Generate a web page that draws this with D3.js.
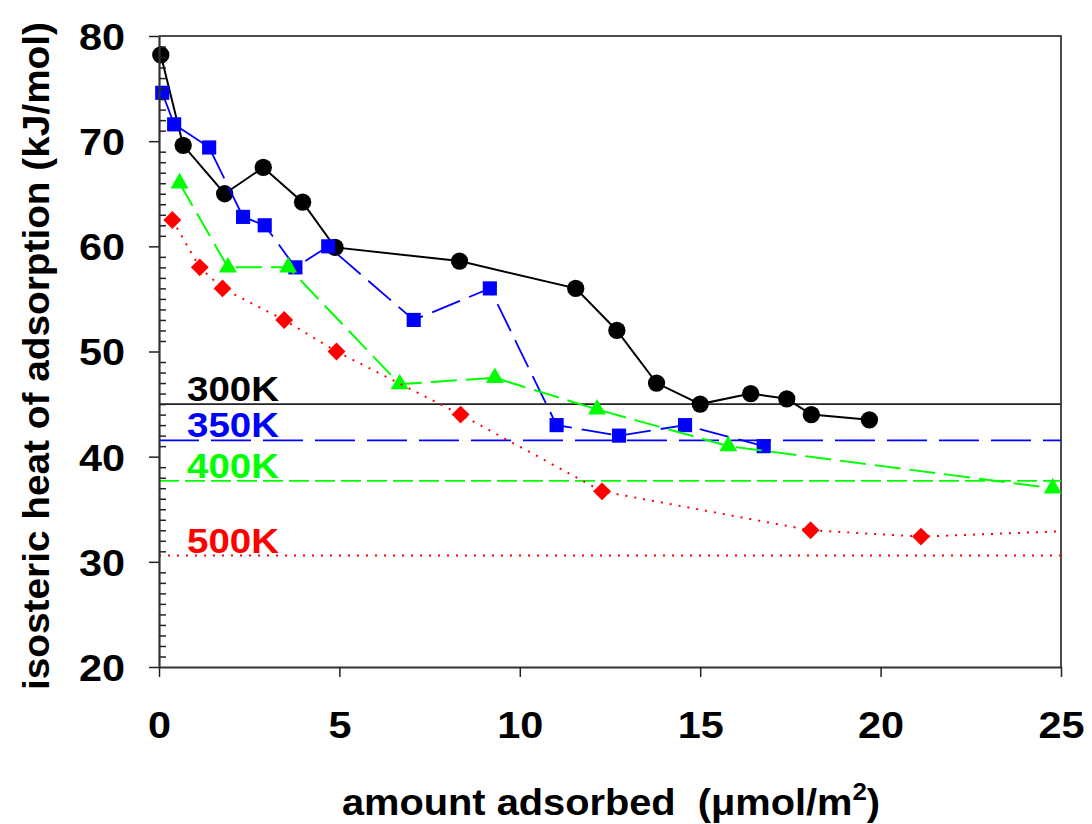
<!DOCTYPE html>
<html>
<head>
<meta charset="utf-8">
<script src="https://cdn.jsdelivr.net/npm/d3@7"></script>
<style>
  body { margin: 0; background: #fff; }
  text { font-family: "Liberation Sans", Arial, sans-serif; font-weight: bold; }
</style>
</head>
<body>
<div id="chart"></div>
<script>
(function() {
  var x300, y300, x350, y350, x400, y400, x500, y500, tail500, refValues, refLabels, refColors, refDash, xTicks, yTicks;

  // isosteric heat data
  x300 = [0.05, 0.67, 1.82, 2.89, 3.98, 4.88, 8.33, 11.55, 12.69, 13.79, 15.0, 16.4, 17.4, 18.08, 19.69];
  y300 = [78.2, 69.6, 65.0, 67.5, 64.2, 59.9, 58.6, 56.0, 52.0, 47.0, 45.0, 46.0, 45.5, 44.0, 43.5];

  x350 = [0.09, 0.42, 1.39, 2.33, 2.93, 3.78, 4.69, 7.06, 9.17, 11.02, 12.75, 14.58, 16.76];
  y350 = [74.6, 71.6, 69.4, 62.8, 62.0, 58.0, 60.0, 53.0, 56.0, 43.0, 42.0, 43.0, 41.0];

  x400 = [0.57, 1.91, 3.58, 6.67, 9.31, 12.14, 15.78, 24.77];
  y400 = [66.0, 58.0, 58.0, 46.9, 47.5, 44.5, 41.0, 37.0];

  x500 = [0.37, 1.13, 1.76, 3.47, 4.92, 8.36, 12.28, 18.06, 21.12];
  y500 = [62.5, 58.0, 56.0, 53.0, 50.0, 44.0, 36.7, 33.0, 32.4];
  tail500 = [25, 32.9];   // line runs on to the right edge, no marker

  refValues = [45.0, 41.55, 37.7, 30.6];
  refLabels = ["300K", "350K", "400K", "500K"];
  refColors = ["#000000", "#0000ff", "#00ff00", "#ff0000"];
  refDash = [null, "40,12", "20,6", "2,7"];

  xTicks = [0, 5, 10, 15, 20, 25];
  yTicks = [20, 30, 40, 50, 60, 70, 80];

  var W = 1092, H = 824;
  var left = 159, right = 1061, top = 36, bottom = 667;

  var svg = d3.select("#chart").append("svg").attr("width", W).attr("height", H);

  var x = d3.scaleLinear().domain([0, 25]).range([left, right]);
  var y = d3.scaleLinear().domain([20, 80]).range([bottom, top]);

  var zip = function(xs, ys) {
    return xs.map(function(d, i) { return [d, ys[i]]; });
  };

  // frame top + right
  svg.append("path")
    .attr("d", "M" + left + "," + top + "H" + right + "V" + bottom)
    .attr("fill", "none").attr("stroke", "#111").attr("stroke-width", 1.5);

  // reference lines
  refValues.forEach(function(v, i) {
    svg.append("line")
      .attr("x1", x(0)).attr("x2", x(25))
      .attr("y1", y(v)).attr("y2", y(v))
      .attr("stroke", i === 0 ? "#222" : refColors[i])
      .attr("stroke-width", i === 3 ? 2 : 1.6)
      .attr("stroke-dasharray", refDash[i]);
    svg.append("text")
      .attr("transform", "translate(" + 187 + "," + (y(v) - 3) + ") scale(1.1,1)")
      .attr("font-size", 35)
      .attr("fill", refColors[i])
      .text(refLabels[i]);
  });

  var line = d3.line().x(function(d) { return x(d[0]); }).y(function(d) { return y(d[1]); });

  var series = [
    { pts: zip(x300, y300), color: "#000000", dash: null, width: 2, sym: d3.symbolCircle, size: 235, rot: 0 },
    { pts: zip(x350, y350), color: "#0000ff", dash: "30,10", width: 1.8, sym: d3.symbolSquare, size: 200, rot: 0 },
    { pts: zip(x400, y400), color: "#00ff00", dash: "26,9", width: 2, sym: d3.symbolTriangle, size: 140, rot: 0 },
    { pts: zip(x500, y500), color: "#ff0000", dash: "2,7", width: 2, sym: d3.symbolSquare, size: 160, rot: 45 }
  ];

  series.forEach(function(s, i) {
    var lp = s.pts.slice();
    if (i === 3) lp.push(tail500);
    svg.append("path")
      .attr("d", line(lp))
      .attr("fill", "none")
      .attr("stroke", s.color)
      .attr("stroke-width", s.width)
      .attr("stroke-dasharray", s.dash);
    svg.append("g").selectAll("path").data(s.pts).enter().append("path")
      .attr("d", d3.symbol().type(s.sym).size(s.size))
      .attr("transform", function(d) {
        return "translate(" + x(d[0]) + "," + y(d[1]) + ") rotate(" + s.rot + ")";
      })
      .attr("fill", s.color);
  });

  // y axis: major ticks outward, minor ticks inward
  var yAxis = svg.append("g").attr("transform", "translate(" + left + ",0)")
    .call(d3.axisLeft(y).tickValues(yTicks).tickSize(10).tickSizeOuter(0).tickPadding(24));
  yAxis.select(".domain").attr("stroke", "#333").attr("stroke-width", 2.2);
  yAxis.selectAll(".tick line").attr("stroke", "#222").attr("stroke-width", 1.5);
  yAxis.selectAll(".tick text")
    .attr("font-size", 37).attr("fill", "#000")
    .attr("x", -34 / 1.12).attr("dy", "0.36em")
    .attr("transform", "scale(1.12,1)");

  var minor = d3.range(21, 80).filter(function(d) { return d % 10 !== 0; });
  var yMinor = svg.append("g").attr("transform", "translate(" + left + ",0)")
    .call(d3.axisRight(y).tickValues(minor).tickSize(7).tickFormat(""));
  yMinor.select(".domain").remove();
  yMinor.selectAll(".tick line").attr("stroke", "#222").attr("stroke-width", 1.5);

  // x axis
  var xAxis = svg.append("g").attr("transform", "translate(0," + bottom + ")")
    .call(d3.axisBottom(x).tickValues(xTicks).tickSize(10).tickSizeOuter(0));
  xAxis.select(".domain").attr("stroke", "#333").attr("stroke-width", 2.2);
  xAxis.selectAll(".tick line").attr("stroke", "#222").attr("stroke-width", 1.5);
  xAxis.selectAll(".tick text")
    .attr("font-size", 37).attr("fill", "#000")
    .attr("y", 71).attr("dy", 0)
    .attr("transform", "scale(1.12,1)");

  // axis titles
  var xt = svg.append("text")
    .attr("x", 342).attr("y", 815)
    .attr("font-size", 37)
    .attr("textLength", 538).attr("lengthAdjust", "spacingAndGlyphs");
  xt.append("tspan").text("amount adsorbed \u00a0(\u03bcmol/m");
  xt.append("tspan").attr("font-size", 24).attr("dy", -15).text("2");
  xt.append("tspan").attr("dy", 15).text(")");

  svg.append("text")
    .attr("transform", "translate(49,356) rotate(-90)")
    .attr("text-anchor", "middle")
    .attr("font-size", 37)
    .attr("textLength", 668).attr("lengthAdjust", "spacingAndGlyphs")
    .text("isosteric heat of adsorption (kJ/mol)");
})();
</script>
</body>
</html>
